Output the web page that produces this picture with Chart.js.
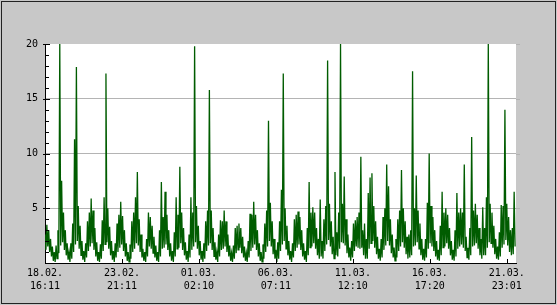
<!DOCTYPE html>
<html>
<head>
<meta charset="utf-8">
<script src="https://cdn.jsdelivr.net/npm/chart.js@4.4.0/dist/chart.umd.min.js"></script>
<style>
  body { margin: 0; background: #c8c8c8; }
  canvas { display: block; }
</style>
</head>
<body>
<canvas id="myChart" width="557" height="305"></canvas>
<script>
/* time axis in hours from 18.02. 16:11, one slot every 3 hours */
const slotHours = 3;
const axisMax = 765;

/* tick labels on the time axis */
const tickHours = [0, 125, 250, 375, 500, 625, 750];
const tickDates = ['18.02.', '23.02.', '01.03.', '06.03.', '11.03.', '16.03.', '21.03.'];
const tickTimes = ['16:11', '21:11', '02:10', '07:11', '12:10', '17:20', '23:01'];

const yTicks = [5, 10, 15, 20];

/* highest value in each slot, one row per day */
const highs = [
  2.6, 3.5, 3.0, 2.2, 1.5, 1.0, 1.6, 3.0,
  20, 7.5, 4.6, 3.0, 1.8, 1.0, 1.8, 3.6,
  11.3, 17.9, 5.2, 3.4, 2.0, 1.1, 1.8, 3.8,
  4.6, 5.9, 4.8, 3.2, 1.9, 1.0, 1.7, 3.9,
  6.0, 17.3, 5.0, 3.3, 2.0, 1.1, 1.8, 3.6,
  4.4, 5.6, 4.3, 3.0, 1.8, 1.0, 1.7, 3.8,
  4.6, 6.0, 8.3, 4.0, 2.6, 1.3, 1.0, 2.2,
  4.6, 4.2, 3.4, 2.4, 1.6, 1.0, 3.0, 7.4,
  4.2, 6.5, 4.4, 3.0, 1.8, 1.1, 2.8, 6.0,
  4.4, 8.8, 4.6, 3.2, 1.9, 1.1, 2.6, 6.0,
  4.6, 19.8, 5.2, 3.4, 2.0, 1.1, 1.8, 3.8,
  4.8, 15.8, 4.8, 3.2, 1.9, 1.0, 2.6, 3.9,
  3.8, 4.8, 3.8, 2.6, 1.6, 0.9, 1.6, 3.2,
  3.4, 3.6, 3.2, 2.4, 1.5, 0.9, 2.0, 4.5,
  4.4, 5.6, 4.4, 3.0, 1.8, 1.0, 1.7, 3.6,
  4.8, 13.0, 5.5, 3.8, 2.2, 1.2, 1.9, 3.8,
  6.7, 17.3, 5.0, 3.4, 2.0, 1.1, 1.8, 4.0,
  4.4, 4.7, 4.2, 3.0, 1.8, 1.1, 3.2, 7.4,
  4.6, 5.1, 4.6, 3.2, 2.2, 5.8, 2.0, 4.0,
  5.2, 18.5, 5.4, 3.8, 2.4, 8.3, 2.8, 4.6,
  20, 5.4, 7.9, 4.0, 2.6, 1.4, 2.0, 3.6,
  3.9, 4.2, 4.6, 9.7, 3.0, 3.6, 2.2, 6.4,
  7.8, 8.2, 5.2, 3.8, 2.4, 1.3, 2.2, 4.2,
  5.0, 9.0, 7.0, 4.0, 2.6, 1.4, 2.2, 4.0,
  4.8, 8.5, 5.0, 3.8, 2.4, 2.6, 3.0, 17.5,
  5.0, 8.0, 4.8, 3.6, 2.2, 1.3, 2.2, 5.5,
  10.0, 5.2, 4.2, 3.0, 2.0, 1.2, 3.4, 6.5,
  4.6, 5.0, 4.4, 3.2, 2.0, 1.2, 3.0, 6.4,
  4.6, 5.0, 4.6, 9.0, 2.4, 1.4, 3.2, 11.5,
  4.8, 5.4, 4.4, 3.2, 2.2, 5.1, 3.2, 6.0,
  20, 5.4, 4.6, 3.4, 2.2, 1.5, 2.8, 5.3,
  5.2, 14.0, 5.4, 4.2, 3.0, 3.2, 6.5
];

/* lowest value in each slot */
const lows = [
  1.2, 1.5, 1.0, 0.6, 0.2, 0.1, 0.4, 0.9,
  1.6, 1.9, 1.2, 0.7, 0.3, 0.1, 0.4, 1.0,
  1.7, 2.0, 1.3, 0.7, 0.3, 0.1, 0.5, 1.1,
  1.5, 1.8, 1.2, 0.6, 0.2, 0.1, 0.4, 1.1,
  1.7, 1.9, 1.3, 0.7, 0.3, 0.1, 0.5, 1.0,
  1.4, 1.7, 1.1, 0.6, 0.2, 0.1, 0.4, 1.0,
  1.3, 1.8, 1.6, 1.0, 0.5, 0.2, 0.1, 0.6,
  1.5, 1.3, 0.9, 0.5, 0.2, 0.1, 0.6, 1.3,
  1.4, 1.7, 1.2, 0.6, 0.2, 0.1, 0.6, 1.3,
  1.4, 1.8, 1.2, 0.7, 0.3, 0.1, 0.5, 1.2,
  1.5, 1.9, 1.3, 0.7, 0.3, 0.1, 0.4, 1.1,
  1.6, 1.8, 1.2, 0.6, 0.3, 0.1, 0.6, 1.2,
  1.3, 1.5, 1.0, 0.6, 0.2, 0.1, 0.4, 0.9,
  1.2, 1.4, 0.9, 0.5, 0.2, 0.1, 0.5, 1.1,
  1.4, 1.7, 1.2, 0.6, 0.2, 0.1, 0.4, 1.0,
  1.5, 2.0, 1.5, 0.8, 0.4, 0.1, 0.4, 1.1,
  1.7, 2.0, 1.3, 0.7, 0.3, 0.1, 0.5, 1.1,
  1.4, 1.7, 1.2, 0.6, 0.3, 0.1, 0.7, 1.4,
  1.5, 1.8, 1.3, 0.7, 0.4, 0.6, 0.4, 1.1,
  1.7, 2.1, 1.5, 0.8, 0.4, 0.7, 0.6, 1.3,
  1.9, 1.8, 1.6, 0.9, 0.5, 0.2, 0.5, 1.1,
  1.5, 1.4, 1.3, 1.4, 0.7, 0.4, 0.4, 1.3,
  1.8, 2.0, 1.4, 0.8, 0.4, 0.2, 0.5, 1.2,
  1.6, 2.0, 1.6, 0.9, 0.5, 0.2, 0.5, 1.1,
  1.5, 1.9, 1.4, 0.8, 0.4, 0.5, 0.7, 1.5,
  1.6, 1.9, 1.3, 0.7, 0.3, 0.2, 0.5, 1.3,
  1.8, 1.5, 1.1, 0.6, 0.3, 0.2, 0.7, 1.4,
  1.5, 1.8, 1.3, 0.7, 0.3, 0.2, 0.6, 1.3,
  1.5, 1.7, 1.4, 1.1, 0.5, 0.3, 0.7, 1.5,
  1.6, 1.8, 1.3, 0.7, 0.4, 0.7, 0.7, 1.4,
  1.9, 1.8, 1.4, 0.8, 0.4, 0.3, 0.6, 1.4,
  1.7, 2.1, 1.6, 1.0, 0.7, 0.8, 1.5
];

/* each slot gives its high at the start and its low half way through */
const points = [];
highs.forEach((h, i) => {
  points.push({ x: i * slotHours, y: h });
  points.push({ x: i * slotHours + slotHours / 2, y: lows[i] });
});

const monoFont = { family: 'DejaVu Sans Mono', size: 10, lineHeight: 1.3 };

/* gray page, white plot, frame and the small tick marks */
const frame = {
  id: 'frame',
  beforeDraw(chart) {
    const c = chart.ctx;
    const a = chart.chartArea;
    c.save();
    c.fillStyle = '#c8c8c8';
    c.fillRect(0, 0, chart.width, chart.height);
    c.fillStyle = '#ffffff';
    c.fillRect(a.left, a.top, a.right - a.left, a.bottom - a.top);
    c.restore();
  },
  afterDraw(chart) {
    const c = chart.ctx;
    const a = chart.chartArea;
    const ys = chart.scales.y;
    const xs = chart.scales.x;
    c.save();
    c.strokeStyle = '#000';
    c.lineWidth = 1;
    c.beginPath();
    for (let v = 1; v <= 20; v++) {
      const y = Math.round(ys.getPixelForValue(v)) + 0.5;
      if (v % 5 === 0) {
        c.moveTo(a.left - 2, y);
        c.lineTo(a.left + 5, y);
      } else {
        c.moveTo(a.left, y);
        c.lineTo(a.left + 4, y);
      }
    }
    tickHours.forEach(h => {
      const x = Math.round(xs.getPixelForValue(h)) + 0.5;
      c.moveTo(x, a.bottom);
      c.lineTo(x, a.bottom - 4);
    });
    c.stroke();
    // grid lines run a little past the plot on the right
    c.strokeStyle = '#b4b4b4';
    c.beginPath();
    yTicks.forEach(v => {
      const y = Math.round(ys.getPixelForValue(v)) + 0.5;
      c.moveTo(a.right, y);
      c.lineTo(a.right + 4, y);
    });
    c.stroke();
    c.strokeStyle = '#222';
    c.strokeRect(1.5, 1.5, chart.width - 3, chart.height - 3);
    c.restore();
  }
};

const config = {
  type: 'line',
  data: {
    datasets: [{
      data: points,
      borderColor: '#005c00',
      borderWidth: 1.3,
      pointRadius: 0,
      tension: 0,
      fill: false
    }]
  },
  options: {
    responsive: false,
    animation: false,
    devicePixelRatio: 1,
    layout: { padding: { left: 0, right: 41, top: 44, bottom: 0 } },
    plugins: { legend: { display: false }, tooltip: { enabled: false } },
    scales: {
      x: {
        type: 'linear',
        min: 0,
        max: axisMax,
        afterBuildTicks: s => { s.ticks = tickHours.map(h => ({ value: h })); },
        afterFit: s => { s.height = 42; },
        grid: { display: false, drawTicks: false },
        border: { display: true, color: '#000', width: 1 },
        ticks: {
          padding: 4,
          maxRotation: 0,
          autoSkip: false,
          color: '#000',
          font: monoFont,
          callback: (v, i) => [tickDates[i], tickTimes[i]]
        }
      },
      y: {
        min: 0,
        max: 20,
        afterBuildTicks: s => { s.ticks = [0].concat(yTicks).map(v => ({ value: v })); },
        afterFit: s => { s.width = 45; },
        grid: {
          drawTicks: false,
          color: c => (c.tick && c.tick.value > 0 && c.tick.value < 20) ? '#b4b4b4' : 'rgba(0,0,0,0)'
        },
        border: { display: true, color: '#000', width: 1 },
        ticks: {
          padding: 7,
          color: '#000',
          font: monoFont,
          callback: v => v === 0 ? '' : v
        }
      }
    }
  },
  plugins: [frame]
};

var ctx = document.getElementById('myChart').getContext('2d');
const myChart = new Chart(ctx, config);
</script>
</body>
</html>
